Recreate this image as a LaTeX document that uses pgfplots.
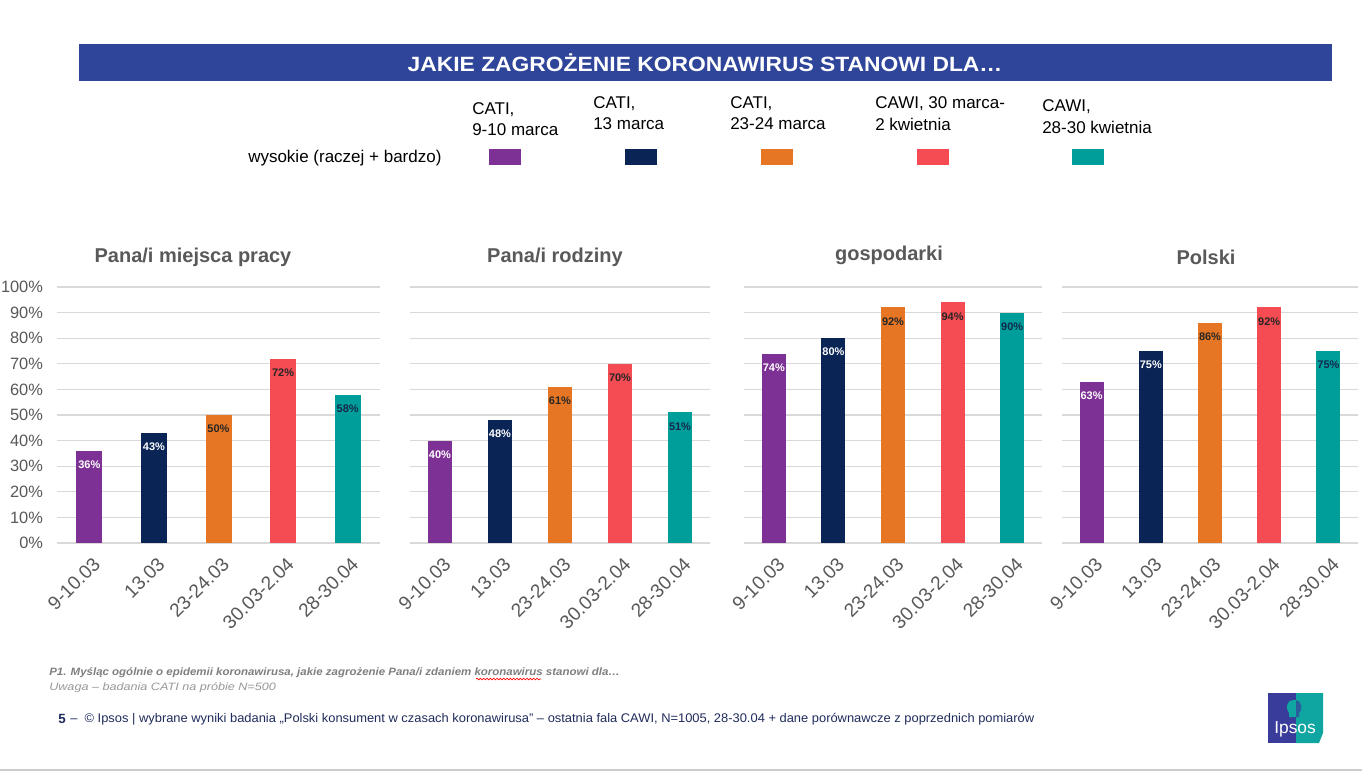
\documentclass[border=0pt]{standalone}
\usepackage{pgfplots}
\pgfplotsset{compat=1.18}
\usepackage{fontspec}
\setmainfont{Liberation Sans}
\usepackage{graphicx}
\usetikzlibrary{decorations.pathmorphing}
\definecolor{cPurple}{HTML}{7E3194}
\definecolor{cNavy}{HTML}{0A2456}
\definecolor{cOrange}{HTML}{E67624}
\definecolor{cRed}{HTML}{F54B52}
\definecolor{cTeal}{HTML}{009E9A}
\definecolor{banner}{HTML}{2F4599}
\definecolor{gridgray}{HTML}{D9D9D9}
\definecolor{tickgray}{HTML}{595959}
\definecolor{notegray}{HTML}{7F7F7F}
\definecolor{footnavy}{HTML}{1F2B5C}
\definecolor{darklab}{HTML}{262626}
\definecolor{teallab}{HTML}{13294B}
\definecolor{logoblue}{HTML}{3A3C9C}
\definecolor{logoteal}{HTML}{0FA5A0}

\pgfplotsset{
  panel/.style={
    scale only axis, height=192pt,
    ymin=0, ymax=100, xmin=-0.5, xmax=4.5,
    axis line style={draw=none},
    ymajorgrids, grid style={draw=gridgray, line width=0.8pt},
    major tick length=0pt,
    ytick={0,10,...,100},
    xtick={0,1,2,3,4},
    xticklabels={9-10.03,13.03,23-24.03,30.03-2.04,28-30.04},
    xticklabel style={xshift=8pt, yshift=-11pt, rotate=45, anchor=east,
      font=\fontsize{14.3}{16}\selectfont, text=tickgray},
    yticklabel style={xshift=-7pt, font=\fontsize{12.3}{14}\selectfont, text=tickgray},
    ybar, bar shift=0pt,
    /pgf/number format/assume math mode=true,
    nodes near coords={\pgfmathprintnumber{\pgfplotspointmeta}\%},
    every node near coord/.append style={anchor=center, yshift=-10.5pt,
      font=\bfseries\fontsize{8.25}{9}\selectfont},
    clip=false,
  },
  wlab/.style={every node near coord/.append style={text=white}},
  dlab/.style={every node near coord/.append style={text=darklab}},
  tlab/.style={every node near coord/.append style={text=teallab}},
}

\begin{document}
\begin{tikzpicture}[x=0.75pt,y=-0.75pt]
\path[use as bounding box] (0,0) rectangle (1362,772);
\fill[white] (0,0) rectangle (1362,772);

% title banner
\fill[banner] (79,44) rectangle (1332,81);
\node[text=white, inner sep=0pt, font=\bfseries\fontsize{15.5}{17}\selectfont] at (705,63)
  {\resizebox{446pt}{\height}{JAKIE ZAGROŻENIE KORONAWIRUS STANOWI DLA…}};

% legend
\def\legfont{\fontsize{12.75}{15}\selectfont}
\node[anchor=west, inner sep=0pt, font=\legfont] at (248,158) {wysokie (raczej + bardzo)};
\fill[cPurple] (489,149) rectangle (521,165);
\fill[cNavy]   (625,149) rectangle (657,165);
\fill[cOrange] (761,149) rectangle (793,165);
\fill[cRed]    (917,149) rectangle (949,165);
\fill[cTeal]   (1072,149) rectangle (1104,165);
\node[anchor=west, inner sep=0pt, font=\legfont] at (472,110) {CATI,};
\node[anchor=west, inner sep=0pt, font=\legfont] at (472,130) {9-10 marca};
\node[anchor=west, inner sep=0pt, font=\legfont] at (593,104) {CATI,};
\node[anchor=west, inner sep=0pt, font=\legfont] at (593,124) {13 marca};
\node[anchor=west, inner sep=0pt, font=\legfont] at (730,104) {CATI,};
\node[anchor=west, inner sep=0pt, font=\legfont] at (730,124) {23-24 marca};
\node[anchor=west, inner sep=0pt, font=\legfont] at (875,104) {CAWI, 30 marca-};
\node[anchor=west, inner sep=0pt, font=\legfont] at (875,124) {2 kwietnia};
\node[anchor=west, inner sep=0pt, font=\legfont] at (1042,107) {CAWI,};
\node[anchor=west, inner sep=0pt, font=\legfont] at (1042,127) {28-30 kwietnia};

% panel titles
\def\ptfont{\bfseries\fontsize{15}{17}\selectfont}
\node[text=tickgray, font=\ptfont] at (193,257) {Pana/i miejsca pracy};
\node[text=tickgray, font=\ptfont] at (555,257) {Pana/i rodziny};
\node[text=tickgray, font=\ptfont] at (889,255) {gospodarki};
\node[text=tickgray, font=\ptfont] at (1206,257) {Polski};

\coordinate (p1) at (57,543);
\coordinate (p2) at (410,543);
\coordinate (p3) at (744,543);
\coordinate (p4) at (1062,543);

% panel 1
\begin{axis}[panel, at={(p1)}, anchor=south west, width=242.25pt, bar width=19.5pt,
  yticklabels={0\%,10\%,20\%,30\%,40\%,50\%,60\%,70\%,80\%,90\%,100\%}]
\addplot[fill=cPurple, draw=none, wlab] coordinates {(0,36)};
\addplot[fill=cNavy, draw=none, wlab] coordinates {(1,43)};
\addplot[fill=cOrange, draw=none, dlab] coordinates {(2,50)};
\addplot[fill=cRed, draw=none, dlab] coordinates {(3,72)};
\addplot[fill=cTeal, draw=none, tlab] coordinates {(4,58)};
\end{axis}

% panel 2
\begin{axis}[panel, at={(p2)}, anchor=south west, width=225pt, bar width=18pt,
  yticklabels={}]
\addplot[fill=cPurple, draw=none, wlab] coordinates {(0,40)};
\addplot[fill=cNavy, draw=none, wlab] coordinates {(1,48)};
\addplot[fill=cOrange, draw=none, dlab] coordinates {(2,61)};
\addplot[fill=cRed, draw=none, dlab] coordinates {(3,70)};
\addplot[fill=cTeal, draw=none, tlab] coordinates {(4,51)};
\end{axis}

% panel 3
\begin{axis}[panel, at={(p3)}, anchor=south west, width=223.5pt, bar width=18pt,
  yticklabels={}]
\addplot[fill=cPurple, draw=none, wlab] coordinates {(0,74)};
\addplot[fill=cNavy, draw=none, wlab] coordinates {(1,80)};
\addplot[fill=cOrange, draw=none, dlab] coordinates {(2,92)};
\addplot[fill=cRed, draw=none, dlab] coordinates {(3,94)};
\addplot[fill=cTeal, draw=none, tlab] coordinates {(4,90)};
\end{axis}

% panel 4
\begin{axis}[panel, at={(p4)}, anchor=south west, width=222pt, bar width=18pt,
  yticklabels={}]
\addplot[fill=cPurple, draw=none, wlab] coordinates {(0,63)};
\addplot[fill=cNavy, draw=none, wlab] coordinates {(1,75)};
\addplot[fill=cOrange, draw=none, dlab] coordinates {(2,86)};
\addplot[fill=cRed, draw=none, dlab] coordinates {(3,92)};
\addplot[fill=cTeal, draw=none, tlab] coordinates {(4,75)};
\end{axis}

% footnotes
\node[anchor=west, inner sep=0pt, text=notegray, font=\bfseries\itshape\fontsize{8}{9}\selectfont] at (49,673)
  {\resizebox{428pt}{\height}{P1. Myśląc ogólnie o epidemii koronawirusa, jakie zagrożenie Pana/i zdaniem koronawirus stanowi dla…}};
\draw[red, line width=0.5pt, decorate, decoration={snake, amplitude=0.6pt, segment length=2.5pt}] (476,679) -- (541,679);
\node[anchor=west, inner sep=0pt, text=notegray!80, font=\itshape\fontsize{8}{9}\selectfont] at (49,688)
  {\resizebox{170pt}{\height}{Uwaga – badania CATI na próbie N=500}};
\node[anchor=west, inner sep=0pt, text=footnavy, font=\bfseries\fontsize{10}{11}\selectfont] at (58,719) {5};
\node[anchor=west, inner sep=0pt, text=footnavy, font=\fontsize{9.4}{11}\selectfont] at (70,719)
  {\resizebox{723pt}{\height}{–\ \ © Ipsos | wybrane wyniki badania „Polski konsument w czasach koronawirusa” – ostatnia fala CAWI, N=1005, 28-30.04 + dane porównawcze z poprzednich pomiarów}};

% logo
\fill[logoblue] (1268,693) rectangle (1296,743);
\fill[logoteal] (1296,693) -- (1323,693) -- (1323,733) -- (1319,743) -- (1296,743) -- cycle;
\fill[logoteal] (1293,700) .. controls (1287,700) and (1285,708) .. (1289,713) -- (1289,717) -- (1296,717) -- (1296,700) -- cycle;
\fill[logoblue!70!logoteal] (1296,700) .. controls (1302,701) and (1303,710) .. (1299,713) -- (1299,717) -- (1296,717) -- cycle;
\node[text=white, inner sep=0pt, font=\fontsize{13}{15}\selectfont] at (1295,729) {Ipsos};

% bottom line
\draw[gray!40, line width=1.5pt] (0,770) -- (1362,770);
\end{tikzpicture}
\end{document}
